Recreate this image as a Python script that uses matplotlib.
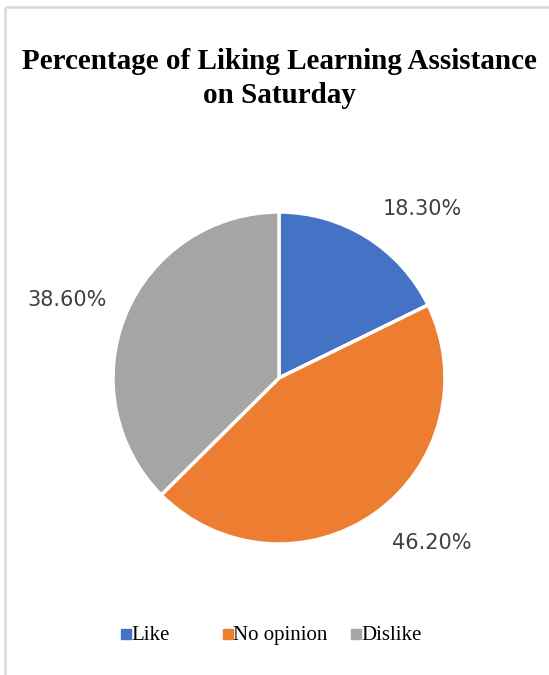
import matplotlib
matplotlib.use("Agg")
import matplotlib.pyplot as plt

categories = ["Like", "No opinion", "Dislike"]
values = [18.30, 46.20, 38.60]
colors = ["#4472C4", "#ED7D31", "#A5A5A5"]
title_lines = ["Percentage of Liking Learning Assistance", "on Saturday"]

W, H = 549, 675
fig = plt.figure(figsize=(W / 100, H / 100), dpi=100)
ax = fig.add_axes([0, 0, 1, 1])

# chart frame (top and left edges visible)
ax.plot([5, W], [H - 7, H - 7], color="#D9D9D9", lw=1.8, solid_capstyle="butt")
ax.plot([5, 5], [0, H - 7], color="#D9D9D9", lw=1.8, solid_capstyle="butt")

cx, cy, r = 279, H - 378, 166
wedges, _ = ax.pie(values, colors=colors, startangle=90, counterclock=False,
                   center=(cx, cy), radius=r, frame=True,
                   wedgeprops=dict(edgecolor="white", linewidth=2.5))
ax.set_xlim(0, W)
ax.set_ylim(0, H)
ax.set_aspect("equal")
ax.axis("off")

# data labels outside each slice
label_xy = [(422, H - 209), (432, H - 543), (67, H - 300)]
for v, (x, y) in zip(values, label_xy):
    ax.text(x, y, f"{v:.2f}%", ha="center", va="center", fontsize=15,
            family="DejaVu Sans", color="#404040")

# two-line bold title
for line, base in zip(title_lines, [69, 103]):
    ax.text(279, H - base, line, ha="center", va="baseline", fontsize=21,
            family="Liberation Serif", fontweight="bold", color="black")

# legend row
legend_x = [121, 223, 351]
legend_base = H - 640
for name, c, x in zip(categories, colors, legend_x):
    ax.plot([x + 4.5], [legend_base + 6], marker="s", markersize=6.5, color=c,
            linestyle="none")
    ax.text(x + 10, legend_base, name, ha="left", va="baseline", fontsize=15,
            family="Liberation Serif", color="black")

fig.savefig("out.png", dpi=100)
